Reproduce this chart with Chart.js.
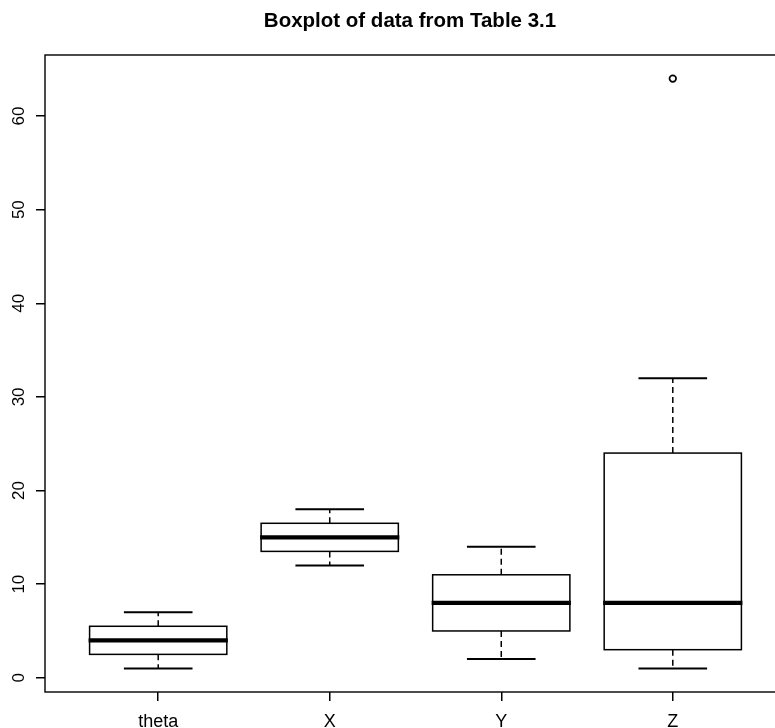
<!DOCTYPE html>
<html>
<head>
<meta charset="utf-8">
<script src="https://cdn.jsdelivr.net/npm/chart.js@4/dist/chart.umd.min.js"></script>
<style>
html,body{margin:0;padding:0;background:#fff;overflow:hidden;}
#wrap{width:830px;height:728px;}
</style>
</head>
<body>
<div id="wrap"><canvas id="c" width="830" height="728"></canvas></div>
<script>
const titleText = 'Boxplot of data from Table 3.1';
const categories = ['theta', 'X', 'Y', 'Z'];
const whiskerLow = [1, 12, 2, 1];
const q1 = [2.5, 13.5, 5, 3];
const median = [4, 15, 8, 8];
const q3 = [5.5, 16.5, 11, 24];
const whiskerHigh = [7, 18, 14, 32];
const outliers = [[], [], [], [64]];
const yTicks = [0, 10, 20, 30, 40, 50, 60];

const FONT = '"Liberation Sans", Arial, Helvetica, sans-serif';

const outlierPoints = [];
outliers.forEach((arr, i) => arr.forEach(v => outlierPoints.push({x: i + 1, y: v})));

const boxPlugin = {
  id: 'boxPlugin',
  beforeDatasetsDraw(chart) {
    const ctx = chart.ctx;
    const xs = chart.scales.x, ys = chart.scales.y;
    const ca = chart.chartArea;
    ctx.save();
    // frame
    ctx.strokeStyle = '#000';
    ctx.lineWidth = 1.4;
    ctx.strokeRect(ca.left, ca.top, ca.right - ca.left, ca.bottom - ca.top);
    categories.forEach((c, i) => {
      const xc = xs.getPixelForValue(i + 1);
      const bl = xs.getPixelForValue(i + 1 - 0.4);
      const br = xs.getPixelForValue(i + 1 + 0.4);
      const sl = xs.getPixelForValue(i + 1 - 0.2);
      const sr = xs.getPixelForValue(i + 1 + 0.2);
      const yq1 = ys.getPixelForValue(q1[i]);
      const yq3 = ys.getPixelForValue(q3[i]);
      const ymed = ys.getPixelForValue(median[i]);
      const ylo = ys.getPixelForValue(whiskerLow[i]);
      const yhi = ys.getPixelForValue(whiskerHigh[i]);
      // whiskers (dashed)
      ctx.lineWidth = 1.5;
      ctx.setLineDash([6, 4]);
      ctx.beginPath();
      ctx.moveTo(xc, yq3); ctx.lineTo(xc, yhi);
      ctx.moveTo(xc, yq1); ctx.lineTo(xc, ylo);
      ctx.stroke();
      ctx.setLineDash([]);
      // staples
      ctx.lineWidth = 2;
      ctx.beginPath();
      ctx.moveTo(sl, yhi); ctx.lineTo(sr, yhi);
      ctx.moveTo(sl, ylo); ctx.lineTo(sr, ylo);
      ctx.stroke();
      // box
      ctx.fillStyle = '#fff';
      ctx.fillRect(bl, yq3, br - bl, yq1 - yq3);
      ctx.lineWidth = 1.5;
      ctx.strokeRect(bl, yq3, br - bl, yq1 - yq3);
      // median
      ctx.lineWidth = 4.2;
      ctx.beginPath();
      ctx.moveTo(bl - 1, ymed); ctx.lineTo(br + 1, ymed);
      ctx.stroke();
    });
    ctx.restore();
  },
  afterDraw(chart) {
    const ctx = chart.ctx;
    const xs = chart.scales.x, ys = chart.scales.y;
    ctx.save();
    ctx.fillStyle = '#000';
    // title
    ctx.font = 'bold 20.5px ' + FONT;
    ctx.textAlign = 'center';
    ctx.textBaseline = 'alphabetic';
    ctx.fillText(titleText, 410, 27);
    // x labels
    ctx.font = '18px ' + FONT;
    categories.forEach((c, i) => {
      ctx.fillText(c, xs.getPixelForValue(i + 1), 727);
    });
    // y labels rotated
    ctx.font = '17px ' + FONT;
    ctx.textBaseline = 'middle';
    yTicks.forEach(v => {
      ctx.save();
      ctx.translate(19, ys.getPixelForValue(v));
      ctx.rotate(-Math.PI / 2);
      ctx.fillText(String(v), 0, 0);
      ctx.restore();
    });
    ctx.restore();
  }
};

new Chart(document.getElementById('c'), {
  type: 'scatter',
  data: {
    datasets: [{
      label: 'outliers',
      data: outlierPoints,
      pointRadius: 3.3,
      pointBorderWidth: 1.7,
      pointBorderColor: '#000',
      pointBackgroundColor: '#fff',
      pointHoverRadius: 3.3
    }]
  },
  options: {
    responsive: false,
    animation: false,
    events: [],
    layout: {padding: {left: 0, right: 44, top: 55, bottom: 0}},
    plugins: {legend: {display: false}, title: {display: false}, tooltip: {enabled: false}},
    scales: {
      x: {
        type: 'linear',
        min: 0.34, max: 4.66,
        afterBuildTicks: s => { s.ticks = categories.map((c, i) => ({value: i + 1})); },
        afterFit: s => { s.height = 36; },
        ticks: {display: false},
        grid: {drawOnChartArea: false, drawTicks: true, tickLength: 9, color: '#000', lineWidth: 1.5},
        border: {display: false}
      },
      y: {
        type: 'linear',
        min: -1.52, max: 66.52,
        afterBuildTicks: s => { s.ticks = yTicks.map(v => ({value: v})); },
        afterFit: s => { s.width = 45; },
        ticks: {display: false},
        grid: {drawOnChartArea: false, drawTicks: true, tickLength: 9, color: '#000', lineWidth: 1.5},
        border: {display: false}
      }
    }
  },
  plugins: [boxPlugin]
});
</script>
</body>
</html>
